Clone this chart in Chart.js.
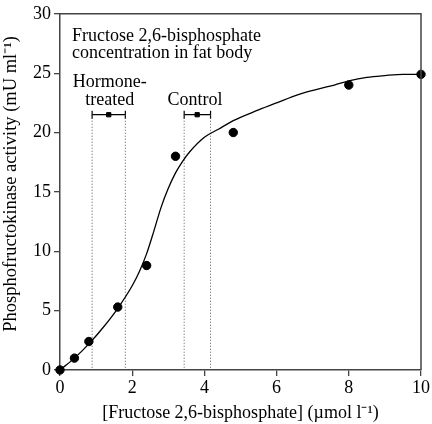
<!DOCTYPE html>
<html>
<head>
<meta charset="utf-8">
<script src="https://cdn.jsdelivr.net/npm/chart.js@4"></script>
<style>
  html, body { margin: 0; padding: 0; background: #fff; }
  #wrap { width: 432px; height: 424px; }
</style>
</head>
<body>
<div id="wrap"><canvas id="myChart" width="432" height="424"></canvas></div>
<script>
// measured points
const puntosX = [0, 0.4, 0.8, 1.6, 2.4, 3.2, 4.8, 8.0, 10.0];
const puntosY = [0, 1.0, 2.4, 5.3, 8.8, 18.0, 20.0, 24.0, 24.9];

// fitted curve
const curvaX = [0, 0.4, 0.8, 1.2, 1.6, 2.0, 2.2, 2.4, 2.6, 2.8, 3.0, 3.2, 3.4, 3.6, 4.0, 4.4, 4.8, 5.5, 6.0, 6.6, 7.2, 7.6, 8.0, 8.5, 9.0, 9.5, 10.0];
const curvaY = [0, 1.0, 2.2, 3.6, 5.2, 7.1, 8.3, 9.8, 11.7, 13.7, 15.3, 16.6, 17.6, 18.4, 19.6, 20.3, 21.0, 21.9, 22.5, 23.2, 23.7, 24.0, 24.35, 24.65, 24.8, 24.9, 24.9];

// fat body concentrations: mean, low, high
const grupos = ["Hormone-treated", "Control"];
const mediaConc = [1.35, 3.8];
const minConc = [0.89, 3.44];
const maxConc = [1.81, 4.17];
const nivelBarra = 21.5;

const xTicks = [0, 2, 4, 6, 8, 10];
const yTicks = [0, 5, 10, 15, 20, 25, 30];

const fuente = "'Liberation Serif', 'Times New Roman', serif";
const ctx = document.querySelector("#myChart");

const aXY = (xs, ys) => xs.map((x, i) => ({ x: x, y: ys[i] }));

let datasets = [
  {
    type: "line",
    data: aXY(curvaX, curvaY),
    borderColor: "#000",
    borderWidth: 1.3,
    pointRadius: 0,
    cubicInterpolationMode: "monotone",
    clip: false,
  },
  {
    type: "scatter",
    data: aXY(puntosX, puntosY),
    backgroundColor: "#000",
    borderColor: "#000",
    pointRadius: 4.2,
    clip: false,
  },
];

// barras de error + lineas punteadas
grupos.forEach((g, i) => {
  [minConc[i], maxConc[i]].forEach((v) => {
    datasets.push({
      type: "line",
      data: [{ x: v, y: nivelBarra }, { x: v, y: 0 }],
      borderColor: "#555",
      borderWidth: 1,
      borderDash: [1, 2],
      pointRadius: 0,
    });
  });
  datasets.push({
    type: "line",
    data: [{ x: minConc[i], y: nivelBarra }, { x: maxConc[i], y: nivelBarra }],
    borderColor: "#000",
    borderWidth: 1.2,
    pointStyle: "line",
    rotation: 90,
    pointRadius: 4,
    pointBorderWidth: 1.2,
  });
  datasets.push({
    type: "scatter",
    data: [{ x: mediaConc[i], y: nivelBarra }],
    pointStyle: "rect",
    pointRadius: 3,
    backgroundColor: "#000",
    borderColor: "#000",
  });
});

// marco y textos
const marco = {
  id: "marco",
  afterDraw(chart) {
    const c = chart.ctx;
    const a = chart.chartArea;
    const sx = chart.scales.x, sy = chart.scales.y;
    c.save();
    c.strokeStyle = "#444";
    c.lineWidth = 1.5;
    c.beginPath();
    c.moveTo(a.left, a.top);
    c.lineTo(a.right, a.top);
    c.lineTo(a.right, a.bottom);
    c.stroke();

    c.fillStyle = "#000";
    c.font = "18px " + fuente;
    c.textBaseline = "alphabetic";
    c.textAlign = "left";
    c.fillText("Fructose 2,6-bisphosphate", sx.getPixelForValue(0.33), sy.getPixelForValue(27.75));
    c.fillText("concentration in fat body", sx.getPixelForValue(0.33), sy.getPixelForValue(26.25));
    c.textAlign = "center";
    c.fillText("Hormone-", sx.getPixelForValue(1.38), sy.getPixelForValue(23.8));
    c.fillText("treated", sx.getPixelForValue(1.38), sy.getPixelForValue(22.35));
    c.fillText("Control", sx.getPixelForValue(3.74), sy.getPixelForValue(22.35));

    // titulo eje y
    c.save();
    c.translate(11, (a.top + a.bottom) / 2 - 8);
    c.rotate(-Math.PI / 2);
    c.textAlign = "center";
    c.textBaseline = "middle";
    c.font = "18.5px " + fuente;
    c.fillText("Phosphofructokinase activity (mU ml\u207b\u00b9)", 0, 0);
    c.restore();
    c.restore();
  },
};

new Chart(ctx, {
  data: { datasets: datasets },
  options: {
    responsive: false,
    animation: false,
    layout: { padding: { top: 8, right: 11, left: 0, bottom: 0 } },
    plugins: { legend: { display: false }, tooltip: { enabled: false } },
    scales: {
      x: {
        type: "linear",
        min: 0,
        max: 10,
        afterFit: (s) => { s.height = 54; },
        afterBuildTicks: (s) => { s.ticks = xTicks.map((v) => ({ value: v })); },
        grid: { display: true, drawOnChartArea: false, drawTicks: true, tickLength: 6, color: "#444", lineWidth: 1.3 },
        border: { display: true, color: "#444", width: 1.5 },
        ticks: { color: "#000", padding: 1, font: { family: fuente, size: 18 } },
        title: {
          display: true,
          text: "[Fructose 2,6-bisphosphate] (\u00b5mol l\u207b\u00b9)",
          color: "#000",
          font: { family: fuente, size: 18 },
          padding: { top: 1, bottom: 0 },
        },
      },
      y: {
        type: "linear",
        min: 0,
        max: 30,
        afterFit: (s) => { s.width = 60; },
        afterBuildTicks: (s) => { s.ticks = yTicks.map((v) => ({ value: v })); },
        grid: { display: true, drawOnChartArea: false, drawTicks: true, tickLength: 6, color: "#444", lineWidth: 1.3 },
        border: { display: true, color: "#444", width: 1.5 },
        ticks: { color: "#000", padding: 3, font: { family: fuente, size: 18 } },
        title: { display: false },
      },
    },
  },
  plugins: [marco],
});
</script>
</body>
</html>
